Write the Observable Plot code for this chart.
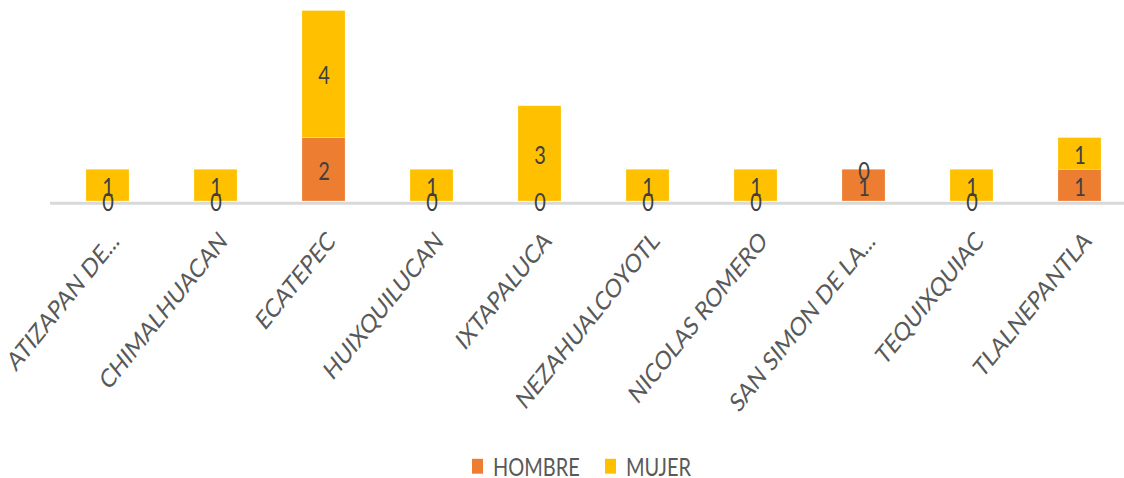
<!DOCTYPE html>
<html>
<head>
<meta charset="utf-8">
<script src="https://cdn.jsdelivr.net/npm/d3@7"></script>
<script src="https://cdn.jsdelivr.net/npm/@observablehq/plot@0.6"></script>
<style>
  html, body { margin: 0; padding: 0; background: #fff; }
  #outer { position: relative; width: 1124px; height: 478px; overflow: hidden; }
  #wrap { position: absolute; left: 0; top: 0; width: 1124px; height: 385.5px; transform: scaleY(1.24); transform-origin: 0 0; font-family: Lato, sans-serif; }
  #legend { position: absolute; left: 472px; top: 367px; display: flex; align-items: center; font-size: 20px; line-height: 18px; height: 18px; color: #595959; white-space: nowrap; }
  .sw { display: inline-block; width: 11px; height: 12px; margin-right: 10px; }
  .item { display: flex; align-items: center; margin-right: 25px; }
</style>
</head>
<body>
<div id="outer"><div id="wrap"></div></div>
<script>
const municipios = ["ATIZAPAN DE...", "CHIMALHUACAN", "ECATEPEC", "HUIXQUILUCAN", "IXTAPALUCA",
  "NEZAHUALCOYOTL", "NICOLAS ROMERO", "SAN SIMON DE LA...", "TEQUIXQUIAC", "TLALNEPANTLA"];
const hombre = [0, 0, 2, 0, 0, 0, 0, 1, 0, 1];
const mujer  = [1, 1, 4, 1, 3, 1, 1, 0, 1, 1];
const series = ["HOMBRE", "MUJER"];
const colors = ["#ED7D31", "#FFC000"];

const data = [
  ...municipios.map((m, i) => ({mun: m, sex: "HOMBRE", value: hombre[i]})),
  ...municipios.map((m, i) => ({mun: m, sex: "MUJER", value: mujer[i]}))
];

const chart = Plot.plot({
  width: 1124,
  height: 362,
  marginLeft: 50,
  marginRight: 0,
  marginTop: 8,
  marginBottom: 0,
  style: {fontFamily: "Lato, sans-serif", background: "transparent"},
  x: {type: "band", domain: municipios, range: [51, 1137], paddingInner: 0.6, paddingOuter: 0.3, axis: null},
  y: {domain: [0, 6], range: [162.1, 8.47], axis: null},
  color: {domain: series, range: colors},
  marks: [
    Plot.ruleY([0], {stroke: "#d9d9d9", strokeWidth: 2.5, dy: 1.3}),
    Plot.barY(data, Plot.stackY({x: "mun", y: "value", fill: "sex", order: series, stroke: "#fff", strokeOpacity: 0.35, strokeWidth: 0.6})),
    Plot.text(data, Plot.stackY({x: "mun", y: "value", z: "sex", order: series, text: d => String(d.value),
      fill: "#404040", fontSize: 20, lineAnchor: "middle", dy: 1.5})),
    Plot.text(municipios, {x: d => d, y: () => 0, text: d => d, rotate: -45, textAnchor: "end", lineAnchor: "top",
      dx: 2, dy: 22.5, fontSize: 21, fill: "#595959"})
  ]
});
const wrap = document.getElementById("wrap");
wrap.appendChild(chart);

const legend = document.createElement("div");
legend.id = "legend";
series.forEach((s, i) => {
  const it = document.createElement("div");
  it.className = "item";
  const sw = document.createElement("span");
  sw.className = "sw";
  sw.style.background = colors[i];
  const t = document.createElement("span");
  t.textContent = s;
  it.appendChild(sw); it.appendChild(t);
  legend.appendChild(it);
});
wrap.appendChild(legend);
</script>
</body>
</html>
